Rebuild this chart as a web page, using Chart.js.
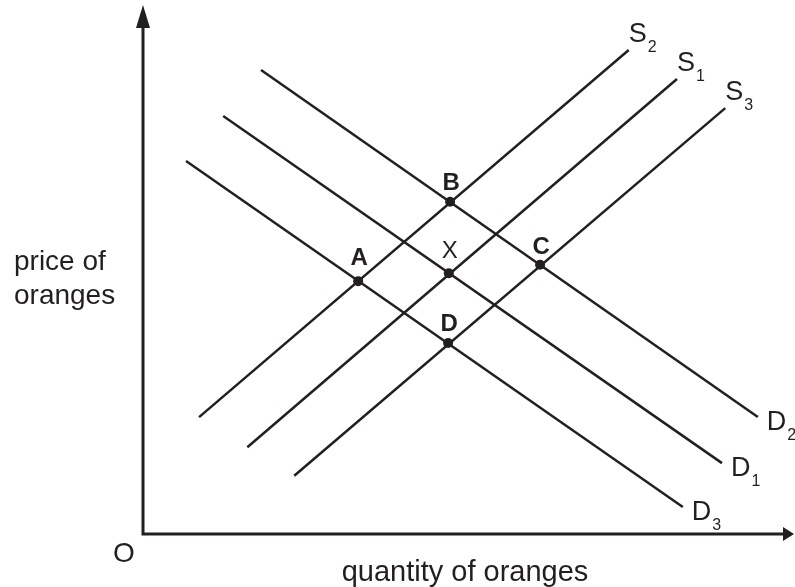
<!DOCTYPE html>
<html>
<head>
<meta charset="utf-8">
<script src="https://cdn.jsdelivr.net/npm/chart.js@4.4.1/dist/chart.umd.min.js"></script>
<style>
  body { margin: 0; background: #fff; }
  #wrap { width: 795px; height: 587px; }
</style>
</head>
<body>
<div id="wrap"><canvas id="market" width="795" height="587"></canvas></div>
<script>
// curves: name, quantity at both ends, price at both ends
const curveNames = ['S2', 'S1', 'S3', 'D2', 'D1', 'D3'];
const curveQty = [[8.6, 74.5], [16.0, 81.9], [23.2, 89.3], [18.1, 94.3], [12.3, 88.8], [6.6, 82.8]];
const curvePrice = [[22.1, 91.5], [16.4, 86.0], [11.0, 80.5], [87.7, 22.1], [79.0, 13.4], [70.5, 5.1]];

// equilibrium points
const pointNames = ['A', 'B', 'X', 'C', 'D'];
const pointQty = [33.0, 47.1, 46.9, 60.9, 46.8];
const pointPrice = [47.8, 62.8, 49.3, 50.9, 36.1];

const ink = '#231f20';
const fontFam = '"Liberation Sans", Arial, Helvetica, sans-serif';

const datasets = curveNames.map((name, i) => ({
    label: name,
    data: curveQty[i].map((q, k) => ({ x: q, y: curvePrice[i][k] })),
    showLine: true,
    borderColor: ink,
    borderWidth: 2.5,
    pointRadius: 0,
    clip: false
}));
datasets.push({
    label: 'points',
    data: pointQty.map((q, k) => ({ x: q, y: pointPrice[k] })),
    showLine: false,
    pointRadius: 5,
    pointBackgroundColor: ink,
    pointBorderWidth: 0,
    clip: false
});

// axes, arrows and all the text
const sketch = {
    id: 'sketch',
    afterDraw(chart) {
        const ctx = chart.ctx;
        const xs = chart.scales.x, ys = chart.scales.y;
        const x0 = xs.getPixelForValue(0), y0 = ys.getPixelForValue(0);
        const xEnd = xs.getPixelForValue(100), yTop = ys.getPixelForValue(100);
        ctx.save();
        ctx.strokeStyle = ink;
        ctx.fillStyle = ink;
        ctx.lineWidth = 3;
        ctx.beginPath();
        ctx.moveTo(x0, yTop + 20);
        ctx.lineTo(x0, y0);
        ctx.lineTo(xEnd - 9, y0);
        ctx.stroke();
        // arrow heads
        ctx.beginPath();
        ctx.moveTo(x0, yTop);
        ctx.lineTo(x0 - 7, yTop + 23);
        ctx.lineTo(x0 + 7, yTop + 23);
        ctx.closePath();
        ctx.fill();
        ctx.beginPath();
        ctx.moveTo(xEnd - 1, y0);
        ctx.lineTo(xEnd - 12, y0 - 7);
        ctx.lineTo(xEnd - 12, y0 + 7);
        ctx.closePath();
        ctx.fill();

        // curve labels with subscripts
        ctx.textAlign = 'left';
        ctx.textBaseline = 'alphabetic';
        curveNames.forEach((name, i) => {
            const px = xs.getPixelForValue(curveQty[i][1]);
            const py = ys.getPixelForValue(curvePrice[i][1]);
            const isS = name[0] === 'S';
            const lx = isS ? px : px + 9;
            const ly = isS ? py - 8 : py + 13;
            ctx.font = '27px ' + fontFam;
            ctx.fillText(name[0], lx, ly);
            const w = ctx.measureText(name[0]).width;
            ctx.font = '16px ' + fontFam;
            ctx.fillText(name.slice(1), lx + w + 1, ly + 10);
        });

        // point labels
        ctx.textAlign = 'center';
        const shift = { A: -16, B: -12, X: -15, C: -11, D: -12 };
        pointNames.forEach((name, k) => {
            const px = xs.getPixelForValue(pointQty[k]);
            const py = ys.getPixelForValue(pointPrice[k]);
            ctx.font = (name === 'X' ? '' : 'bold ') + '24px ' + fontFam;
            ctx.fillText(name, px + 1, py + shift[name]);
        });

        // axis titles
        ctx.font = '28px ' + fontFam;
        ctx.textAlign = 'left';
        ctx.textBaseline = 'middle';
        ctx.fillText('price of', 14, 262);
        ctx.fillText('oranges', 14, 296);
        ctx.textAlign = 'center';
        ctx.fillText('O', x0 - 19, y0 + 20);
        ctx.font = '29px ' + fontFam;
        ctx.fillText('quantity of oranges', 465, y0 + 39);
        ctx.restore();
    }
};

new Chart(document.getElementById('market'), {
    type: 'scatter',
    data: { datasets: datasets },
    options: {
        responsive: false,
        animation: false,
        layout: { autoPadding: false, padding: { left: 143, right: 0, top: 5, bottom: 53 } },
        plugins: { legend: { display: false }, tooltip: { enabled: false } },
        scales: {
            x: { type: 'linear', min: 0, max: 100, display: false },
            y: { type: 'linear', min: 0, max: 100, display: false }
        }
    },
    plugins: [sketch]
});
</script>
</body>
</html>
